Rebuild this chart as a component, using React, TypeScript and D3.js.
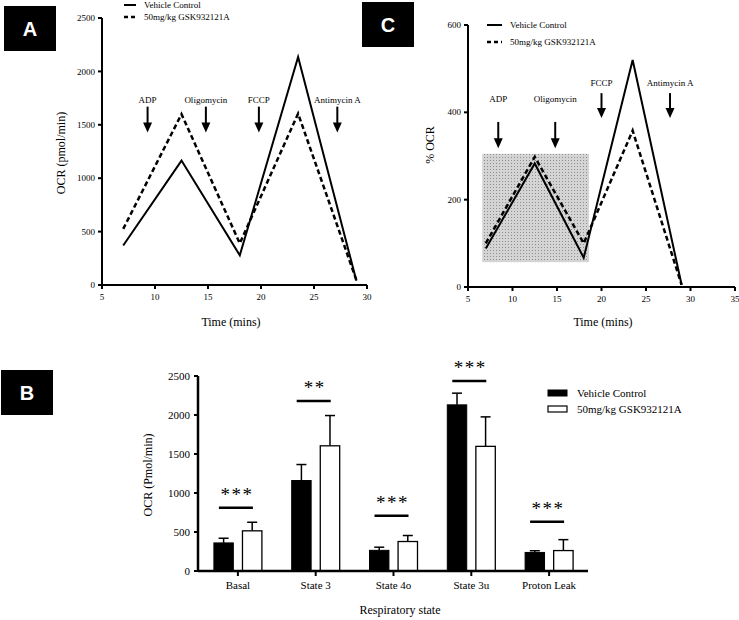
import React from "react";
import * as d3 from "d3";

// ---------- Panel A data ----------
const timeA = [7, 12.5, 18, 23.5, 29];
const vehicleA = [370, 1165, 278, 2135, 40];
const gskA = [525, 1600, 390, 1605, 45];
const arrowLabels = ["ADP", "Oligomycin", "FCCP", "Antimycin A"];
const arrowTimesA = [9.3, 14.8, 19.8, 27.2];
const arrowTopA = [1670, 1670, 1670, 1670];
const arrowTipA = [1427, 1427, 1427, 1427];
const arrowLabelA = [1735, 1735, 1735, 1735];
const yTicksA = [0, 500, 1000, 1500, 2000, 2500];
const xTicksA = [5, 10, 15, 20, 25, 30];

// ---------- Panel C data ----------
const timeC = [7, 12.5, 18, 23.5, 29];
const vehicleC = [88, 283, 67, 520, 5];
const gskC = [100, 298, 100, 358, 5];
const arrowTimesC = [8.4, 14.8, 20.0, 27.7];
const arrowTopC = [378, 378, 444, 444];
const arrowTipC = [318, 318, 387, 387];
const arrowLabelC = [430, 430, 467, 467];
const shadeC = { x0: 6.6, x1: 18.6, y0: 57, y1: 305 };
const yTicksC = [0, 200, 400, 600];
const xTicksC = [5, 10, 15, 20, 25, 30, 35];

// ---------- Panel B data ----------
const categories = ["Basal", "State 3", "State 4o", "State 3u", "Proton Leak"];
const vehicleMean = [360, 1160, 265, 2130, 238];
const vehicleErr = [60, 205, 40, 150, 22];
const gskMean = [515, 1605, 378, 1598, 262];
const gskErr = [110, 388, 77, 378, 140];
const sigStars = ["***", "**", "***", "***", "***"];
const sigY = [812, 2179, 709, 2436, 632];
const yTicksB = [0, 500, 1000, 1500, 2000, 2500];
const seriesNames = ["Vehicle Control", "50mg/kg GSK932121A"];

const SERIF = "Liberation Serif, DejaVu Serif, serif";
const SANS = "Liberation Sans, Arial, sans-serif";
const serif = (size: number): React.CSSProperties => ({ fontFamily: SERIF, fontSize: size });

function PanelLabel({ x, y, label }: { x: number; y: number; label: string }) {
  return (
    <g>
      <rect x={x} y={y} width={52} height={45} fill="#000" />
      <text
        x={x + 26}
        y={y + 23}
        dy="0.36em"
        textAnchor="middle"
        fill="#fff"
        style={{ fontFamily: SANS, fontWeight: "bold", fontSize: 20 }}
      >
        {label}
      </text>
    </g>
  );
}

function Arrow({ x, yTop, yTip, label, labelY }: { x: number; yTop: number; yTip: number; label: string; labelY: number }) {
  const head = 10;
  return (
    <g>
      <text x={x} y={labelY} dy="0.35em" textAnchor="middle" style={serif(9)}>
        {label}
      </text>
      <line x1={x} x2={x} y1={yTop} y2={yTip - head + 1} stroke="#000" strokeWidth={2} />
      <path d={`M${x - 4.5},${yTip - head} L${x + 4.5},${yTip - head} L${x},${yTip} Z`} fill="#000" />
    </g>
  );
}

function LineLegend({ x, y1, y2, lineLen }: { x: number; y1: number; y2: number; lineLen: number }) {
  return (
    <g>
      <line x1={x} x2={x + lineLen} y1={y1} y2={y1} stroke="#000" strokeWidth={2} />
      <text x={x + lineLen + 8} y={y1} dy="0.35em" style={serif(9)}>{seriesNames[0]}</text>
      <line x1={x} x2={x + lineLen} y1={y2} y2={y2} stroke="#000" strokeWidth={2.5} strokeDasharray="4,3" />
      <text x={x + lineLen + 8} y={y2} dy="0.35em" style={serif(9)}>{seriesNames[1]}</text>
    </g>
  );
}

function LineAxes({
  xs, ys, xTicks, yTicks,
}: {
  xs: d3.ScaleLinear<number, number>; ys: d3.ScaleLinear<number, number>; xTicks: number[]; yTicks: number[];
}) {
  const [x0, x1] = xs.range();
  const [yb, yt] = ys.range();
  return (
    <g>
      <line x1={x0} x2={x1} y1={yb} y2={yb} stroke="#000" strokeWidth={2} />
      <line x1={x0} x2={x0} y1={yb} y2={yt} stroke="#000" strokeWidth={2} />
      {xTicks.map((t) => (
        <g key={"x" + t}>
          <line x1={xs(t)} x2={xs(t)} y1={yb} y2={yb + 4} stroke="#000" strokeWidth={2} />
          <text x={xs(t)} y={yb + 12} dy="0.35em" textAnchor="middle" style={serif(9)}>{t}</text>
        </g>
      ))}
      {yTicks.map((t) => (
        <g key={"y" + t}>
          <line x1={x0 - 4} x2={x0} y1={ys(t)} y2={ys(t)} stroke="#000" strokeWidth={2} />
          <text x={x0 - 7} y={ys(t)} dy="0.35em" textAnchor="end" style={serif(9)}>{t}</text>
        </g>
      ))}
    </g>
  );
}

export default function App() {
  // Panel A scales
  const xA = d3.scaleLinear().domain([5, 30]).range([102, 367]);
  const yA = d3.scaleLinear().domain([0, 2500]).range([285, 18]);
  // Panel C scales
  const xC = d3.scaleLinear().domain([5, 35]).range([468, 735]);
  const yC = d3.scaleLinear().domain([0, 600]).range([287, 25]);
  // Panel B scales
  const xB = d3.scaleBand<string>().domain(categories).range([199, 588]);
  const inner = d3.scaleBand<string>().domain(["v", "g"]).range([-24, 24]).paddingInner(0.32);
  const yB = d3.scaleLinear().domain([0, 2500]).range([571, 376]);

  const lineA = d3.line<[number, number]>().x((d) => xA(d[0])).y((d) => yA(d[1]));
  const lineC = d3.line<[number, number]>().x((d) => xC(d[0])).y((d) => yC(d[1]));

  const vA = timeA.map((t, i) => [t, vehicleA[i]] as [number, number]);
  const gA = timeA.map((t, i) => [t, gskA[i]] as [number, number]);
  const vC = timeC.map((t, i) => [t, vehicleC[i]] as [number, number]);
  const gC = timeC.map((t, i) => [t, gskC[i]] as [number, number]);

  const bw = inner.bandwidth();

  return (
    <svg
      width={739}
      height={620}
      style={{ position: "absolute", left: 0, top: 0, background: "#fff" }}
      xmlns="http://www.w3.org/2000/svg"
    >
      <defs>
        <pattern id="dots" width={3} height={3} patternUnits="userSpaceOnUse">
          <rect width={3} height={3} fill="#d4d4d4" />
          <rect x={1} y={1} width={1} height={1} fill="#8e8e8e" />
        </pattern>
      </defs>
      <rect width={739} height={620} fill="#fff" />

      {/* ---------------- Panel A ---------------- */}
      <PanelLabel x={4} y={6} label="A" />
      <LineAxes xs={xA} ys={yA} xTicks={xTicksA} yTicks={yTicksA} />
      <text transform={`translate(61,153) rotate(-90)`} textAnchor="middle" dy="0.35em" style={serif(12)}>
        OCR (pmol/min)
      </text>
      <text x={231} y={322} dy="0.35em" textAnchor="middle" style={serif(12)}>
        Time (mins)
      </text>
      {arrowLabels.map((l, i) => (
        <Arrow
          key={"aa" + i}
          x={xA(arrowTimesA[i])}
          yTop={yA(arrowTopA[i])}
          yTip={yA(arrowTipA[i])}
          label={l}
          labelY={yA(arrowLabelA[i])}
        />
      ))}
      <path d={lineA(vA) || ""} fill="none" stroke="#000" strokeWidth={2} />
      <path d={lineA(gA) || ""} fill="none" stroke="#000" strokeWidth={2.5} strokeDasharray="5,3" />
      <LineLegend x={124} y1={5} y2={17} lineLen={12} />

      {/* ---------------- Panel C ---------------- */}
      <PanelLabel x={362} y={2} label="C" />
      <rect
        x={xC(shadeC.x0)}
        y={yC(shadeC.y1)}
        width={xC(shadeC.x1) - xC(shadeC.x0)}
        height={yC(shadeC.y0) - yC(shadeC.y1)}
        fill="url(#dots)"
      />
      <LineAxes xs={xC} ys={yC} xTicks={xTicksC} yTicks={yTicksC} />
      <text transform={`translate(430,145) rotate(-90)`} textAnchor="middle" dy="0.35em" style={serif(12)}>
        % OCR
      </text>
      <text x={603} y={322} dy="0.35em" textAnchor="middle" style={serif(12)}>
        Time (mins)
      </text>
      {arrowLabels.map((l, i) => (
        <Arrow
          key={"ca" + i}
          x={xC(arrowTimesC[i])}
          yTop={yC(arrowTopC[i])}
          yTip={yC(arrowTipC[i])}
          label={l}
          labelY={yC(arrowLabelC[i])}
        />
      ))}
      <path d={lineC(vC) || ""} fill="none" stroke="#000" strokeWidth={2} />
      <path d={lineC(gC) || ""} fill="none" stroke="#000" strokeWidth={2.5} strokeDasharray="5,3" />
      <LineLegend x={487} y1={25} y2={42} lineLen={15} />

      {/* ---------------- Panel B ---------------- */}
      <PanelLabel x={1} y={370} label="B" />
      <g>
        {categories.map((c, i) => {
          const cx = (xB(c) as number) + xB.bandwidth() / 2;
          const vx = cx + (inner("v") as number);
          const gx = cx + (inner("g") as number);
          return (
            <g key={c}>
              <line x1={vx + bw / 2} x2={vx + bw / 2} y1={yB(vehicleMean[i])} y2={yB(vehicleMean[i] + vehicleErr[i])} stroke="#000" strokeWidth={1.5} />
              <line x1={vx + bw / 2 - 5} x2={vx + bw / 2 + 5} y1={yB(vehicleMean[i] + vehicleErr[i])} y2={yB(vehicleMean[i] + vehicleErr[i])} stroke="#000" strokeWidth={1.5} />
              <line x1={gx + bw / 2} x2={gx + bw / 2} y1={yB(gskMean[i])} y2={yB(gskMean[i] + gskErr[i])} stroke="#000" strokeWidth={1.5} />
              <line x1={gx + bw / 2 - 5} x2={gx + bw / 2 + 5} y1={yB(gskMean[i] + gskErr[i])} y2={yB(gskMean[i] + gskErr[i])} stroke="#000" strokeWidth={1.5} />
              <rect x={vx} y={yB(vehicleMean[i])} width={bw} height={yB(0) - yB(vehicleMean[i])} fill="#000" stroke="#000" strokeWidth={1} />
              <rect x={gx} y={yB(gskMean[i])} width={bw} height={yB(0) - yB(gskMean[i])} fill="#fff" stroke="#000" strokeWidth={1.3} />
              <line x1={cx - 19} x2={cx + 15} y1={yB(sigY[i])} y2={yB(sigY[i])} stroke="#000" strokeWidth={2.5} />
              <text
                x={cx - 1}
                y={yB(sigY[i]) - 7}
                textAnchor="middle"
                fill="#000"
                style={{ fontFamily: SERIF, fontSize: 19, letterSpacing: 1.5 }}
              >
                {sigStars[i]}
              </text>
            </g>
          );
        })}
      </g>
      <g>
        <line x1={198} x2={588} y1={yB(0)} y2={yB(0)} stroke="#000" strokeWidth={2.5} />
        <line x1={198} x2={198} y1={yB(0)} y2={yB(2500)} stroke="#000" strokeWidth={2.5} />
        {yTicksB.map((t) => (
          <g key={"by" + t}>
            <line x1={194} x2={198} y1={yB(t)} y2={yB(t)} stroke="#000" strokeWidth={2} />
            <text x={190} y={yB(t)} dy="0.35em" textAnchor="end" style={serif(11)}>{t}</text>
          </g>
        ))}
        {categories.map((c) => {
          const cx = (xB(c) as number) + xB.bandwidth() / 2;
          return (
            <g key={"bx" + c}>
              <line x1={cx} x2={cx} y1={yB(0)} y2={yB(0) + 5} stroke="#000" strokeWidth={2} />
              <text x={cx} y={585} dy="0.35em" textAnchor="middle" style={serif(11)}>{c}</text>
            </g>
          );
        })}
      </g>
      <text transform={`translate(148,475) rotate(-90)`} textAnchor="middle" dy="0.35em" style={serif(12)}>
        OCR (Pmol/min)
      </text>
      <text x={400} y={610} dy="0.35em" textAnchor="middle" style={serif(12)}>
        Respiratory state
      </text>
      <g>
        <rect x={548} y={390} width={19} height={6} fill="#000" stroke="#000" />
        <text x={577} y={393} dy="0.35em" style={serif(11)}>{seriesNames[0]}</text>
        <rect x={548} y={406} width={19} height={6} fill="#fff" stroke="#000" strokeWidth={1.2} />
        <text x={577} y={409} dy="0.35em" style={serif(11)}>{seriesNames[1]}</text>
      </g>
    </svg>
  );
}
